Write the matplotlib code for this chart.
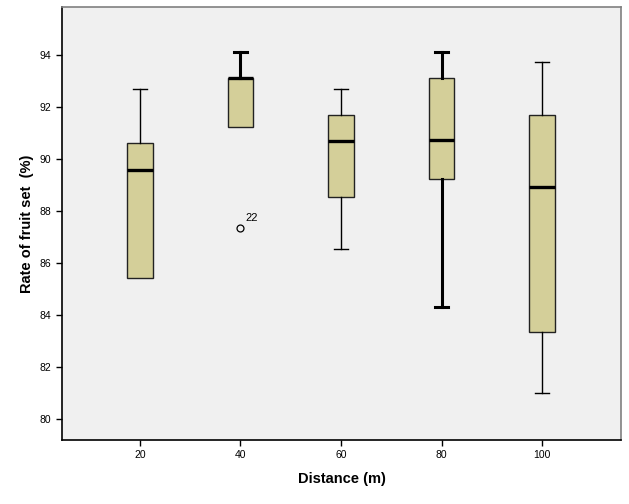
"""Boxplot of fruit-set rate by distance (SPSS-style)."""

import matplotlib

matplotlib.use("Agg", force=True)
import matplotlib.pyplot as plt

plt.rcParams["font.family"] = ["Liberation Sans", "DejaVu Sans"]

DISTANCES = ["20", "40", "60", "80", "100"]
WHISKER_LOW = [85.42, 91.23, 86.54, 84.31, 81.0]
Q1 = [85.42, 91.23, 88.54, 89.23, 83.35]
MEDIAN = [89.58, 93.12, 90.69, 90.73, 88.92]
Q3 = [90.62, 93.12, 91.7, 93.1, 91.7]
WHISKER_HIGH = [92.69, 94.1, 92.7, 94.1, 93.73]
OUTLIERS = [[], [87.35], [], [], []]
OUTLIER_LABELS = {1: "22"}
Y_TICKS = [80, 82, 84, 86, 88, 90, 92, 94]

BOX_COLOR = "#d4cf99"

stats = []
for i, label in enumerate(DISTANCES):
    stats.append({
        "label": label,
        "whislo": WHISKER_LOW[i],
        "q1": Q1[i],
        "med": MEDIAN[i],
        "q3": Q3[i],
        "whishi": WHISKER_HIGH[i],
        "fliers": OUTLIERS[i],
    })

fig = plt.figure(figsize=(6.29, 5.04), dpi=100)
ax = fig.add_axes([62 / 629, 64 / 504, 559 / 629, 433 / 504])
ax.set_facecolor("#f0f0f0")

positions = list(range(1, len(DISTANCES) + 1))
for i, st in enumerate(stats):
    lw = 2.2 if i in (1, 3) else 1.0
    parts = ax.bxp(
        [st],
        positions=[positions[i]],
        widths=0.25,
        patch_artist=True,
        boxprops=dict(facecolor=BOX_COLOR, edgecolor="#222222", linewidth=1.0),
        medianprops=dict(color="black", linewidth=2.4),
        whiskerprops=dict(color="black", linewidth=lw),
        capprops=dict(color="black", linewidth=lw),
        capwidths=0.13,
        flierprops=dict(marker="o", markerfacecolor="none", markeredgecolor="black",
                        markersize=5, markeredgewidth=0.9),
    )
    # no lower whisker when it coincides with the box edge
    if st["whislo"] == st["q1"]:
        parts["caps"][0].set_visible(False)
        parts["whiskers"][0].set_visible(False)

for idx, text in OUTLIER_LABELS.items():
    for val in OUTLIERS[idx]:
        ax.annotate(text, (positions[idx], val), textcoords="offset points",
                    xytext=(3.5, 5), fontsize=8)

ax.set_xlim(0.224, 5.786)
ax.set_ylim(79.19, 95.85)
ax.set_yticks(Y_TICKS)
ax.set_yticklabels([str(t) for t in Y_TICKS])
ax.set_xticks(positions)
ax.set_xticklabels(DISTANCES)
ax.tick_params(axis="both", direction="out", length=4, width=1, labelsize=7.5,
               colors="black")

ax.spines["left"].set_color("black")
ax.spines["bottom"].set_color("black")
ax.spines["top"].set_color("#808080")
ax.spines["right"].set_color("#808080")
for sp in ax.spines.values():
    sp.set_linewidth(1.2)

ax.set_xlabel("Distance (m)", fontsize=10.5, fontweight="bold", labelpad=8)
ax.set_ylabel("Rate of fruit set  (%)", fontsize=10.5, fontweight="bold", labelpad=4)

fig.savefig("out.png", dpi=100)
